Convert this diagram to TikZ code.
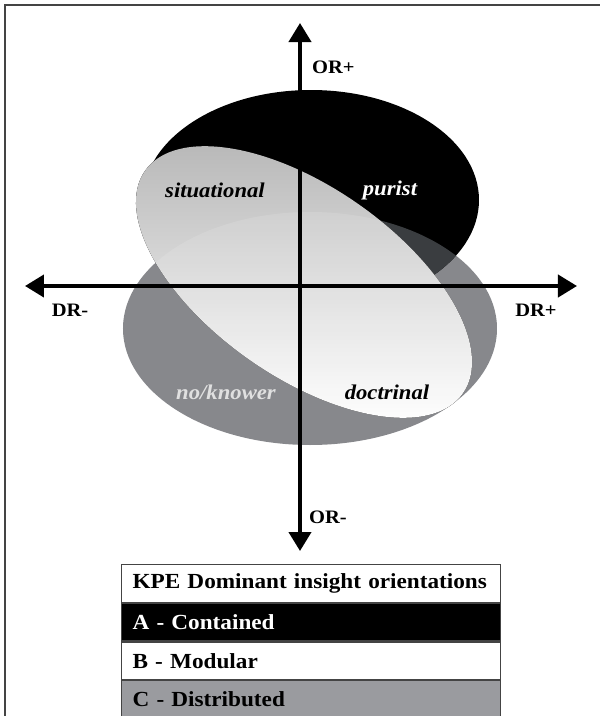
\documentclass[tikz,border=0pt]{standalone}
\usepackage{fontspec}
\setmainfont{Liberation Serif}[FakeStretch=1.08]
\usetikzlibrary{arrows.meta, positioning}
\definecolor{distributed}{RGB}{135,136,140}
\definecolor{overlapAC}{RGB}{58,61,64}
\definecolor{legendgray}{RGB}{154,155,159}
\definecolor{framegray}{RGB}{68,68,68}

\begin{document}
\begin{tikzpicture}[x=1pt, y=1pt,
    axis/.style={line width=4pt, {Triangle[length=19pt, width=22pt]}-{Triangle[length=19pt, width=22pt]}},
    axlabel/.style={font=\fontsize{19}{22}\selectfont\bfseries, inner sep=0pt},
    quadlabel/.style={font=\fontsize{21}{25}\selectfont\bfseries\itshape, inner sep=0pt},
    legrow/.style={draw=framegray, line width=1.2pt, text width=357pt, minimum height=37.5pt,
      align=left, inner xsep=11pt, font=\fontsize{21.5}{24}\selectfont\bfseries}]
  \useasboundingbox (-300,285) rectangle (300,-431);
  \draw[framegray, line width=1.5pt] (-295,-431) -- (-295,280) -- (300,280);
  % orientations C, A and their overlap
  \fill[distributed] (10,-43.5) ellipse [x radius=187, y radius=116.5];
  \fill[black] (11,85) ellipse [x radius=168, y radius=110];
  \begin{scope}
    \clip (11,85) ellipse [x radius=168, y radius=110];
    \fill[overlapAC] (10,-43.5) ellipse [x radius=187, y radius=116.5];
  \end{scope}
  % orientation B
  \begin{scope}
    \clip[rotate around={-35:(4,3)}] (4,3) ellipse [x radius=194, y radius=95];
    \fill[top color=black!28, bottom color=white] (-175,145) rectangle (180,-140);
    \clip (10,-43.5) ellipse [x radius=187, y radius=116.5];
    \fill[white, opacity=.12] (-175,145) rectangle (180,-140);
  \end{scope}
  % axes
  \coordinate (ortop) at (0,262);
  \coordinate (orbot) at (0,-266);
  \coordinate (drleft) at (-275,-1);
  \coordinate (drright) at (277,-1);
  \draw[axis] (orbot) -- (ortop);
  \draw[axis] (drleft) -- (drright);
  \node[axlabel, anchor=west] (orplus) at (12,218) {OR+};
  \node[axlabel, anchor=west] (orminus) at (9,-232) {OR-};
  \node[axlabel] (drminus) at (-230,-25) {DR-};
  \node[axlabel] (drplus) at (236,-25) {DR+};
  \node[quadlabel] (situational) at (-85,95) {situational};
  \node[quadlabel, text=white] (purist) at (90,95) {purist};
  \node[quadlabel, text=white!88!black] (noknower) at (-74,-107) {no/knower};
  \node[quadlabel] (doctrinal) at (87,-107) {doctrinal};
  % legend
  \node[legrow, fill=white, anchor=north west] (legtitle) at (-179,-279) {KPE Dominant insight orientations};
  \node[legrow, fill=black, text=white, below=0pt of legtitle] (legA) {A - Contained};
  \node[legrow, fill=white, below=0pt of legA] (legB) {B - Modular};
  \node[legrow, fill=legendgray, below=0pt of legB] (legC) {C - Distributed};
\end{tikzpicture}
\end{document}
